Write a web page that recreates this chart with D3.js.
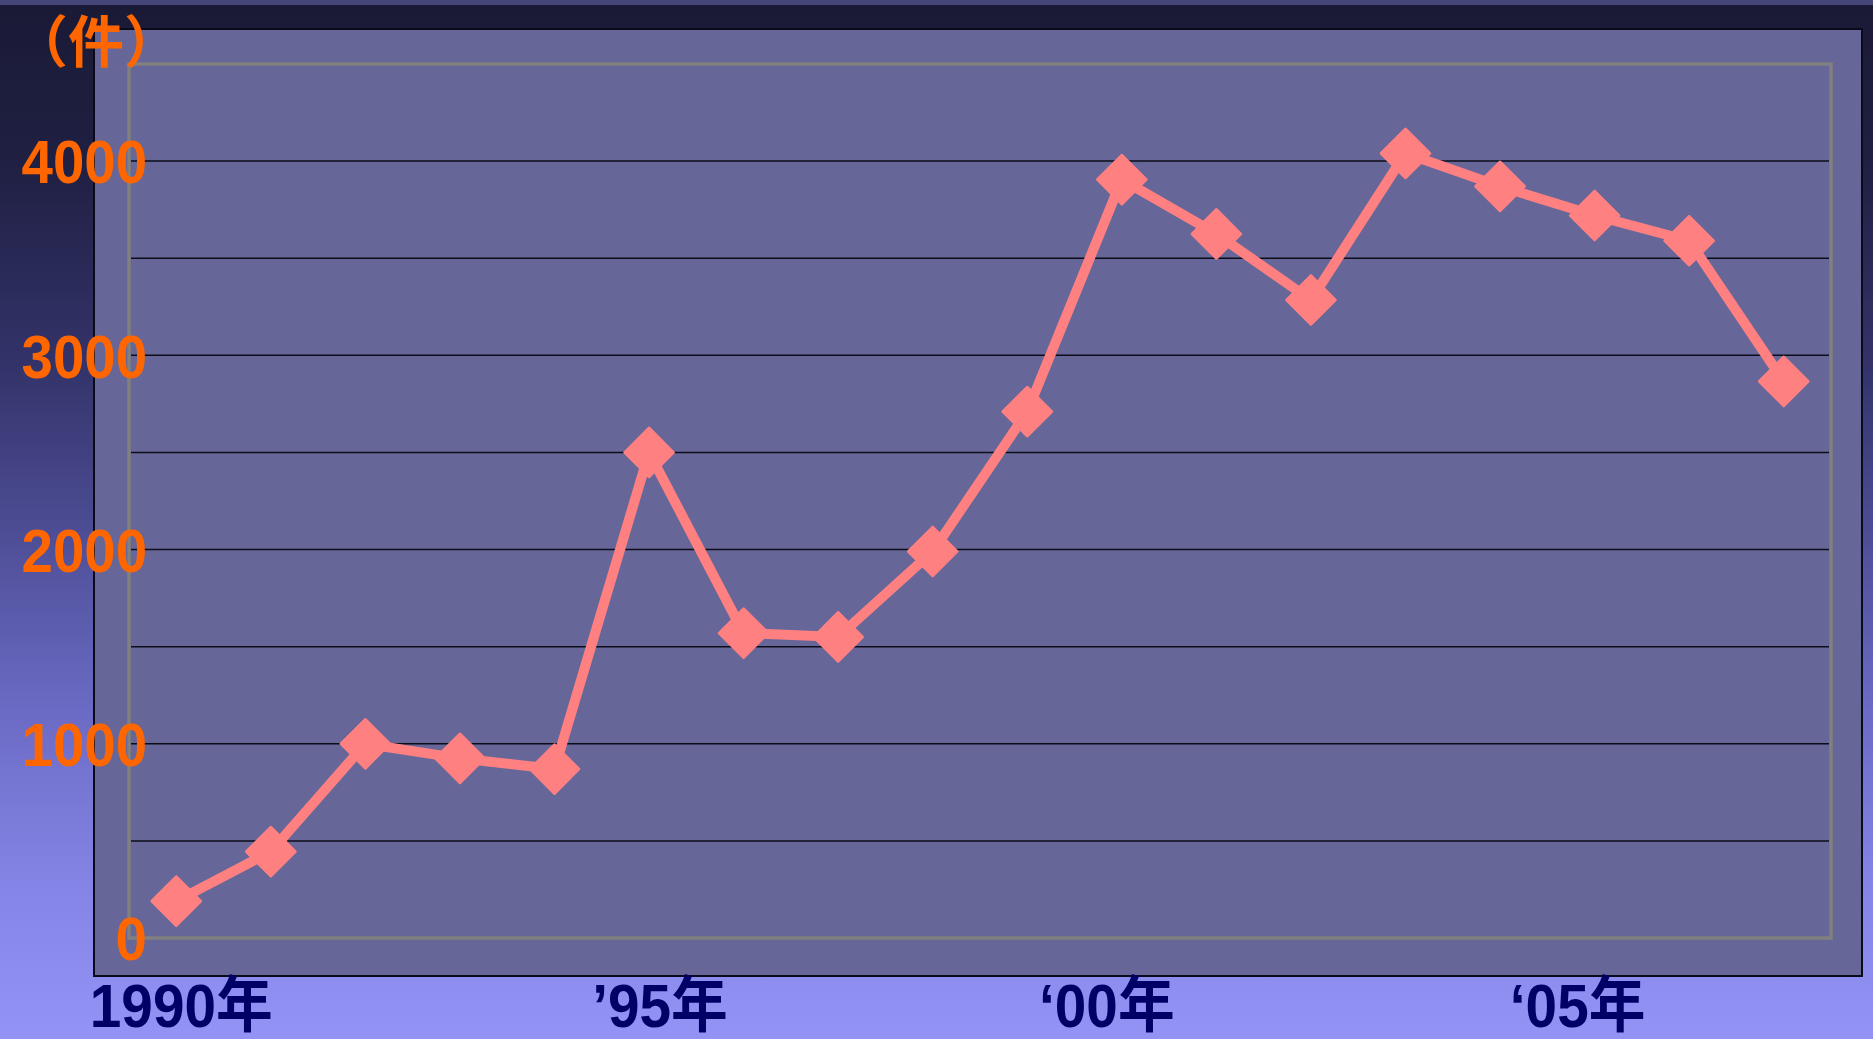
<!DOCTYPE html>
<html>
<head>
<meta charset="utf-8">
<script src="https://cdn.jsdelivr.net/npm/d3@7"></script>
<style>
  html, body { margin: 0; padding: 0; background: #1b1b38; }
  svg { display: block; }
</style>
</head>
<body>
<svg id="chart" width="1873" height="1039"></svg>
<script>
// ---- data ----
const years = [1990, 1991, 1992, 1993, 1994, 1995, 1996, 1997, 1998, 1999,
               2000, 2001, 2002, 2003, 2004, 2005, 2006, 2007];
const counts = [190, 445, 1000, 925, 870, 2500, 1570, 1550, 1990, 2710,
                3905, 3625, 3285, 4040, 3870, 3720, 3590, 2866];
const yTickLabels = [0, 1000, 2000, 3000, 4000];
const gridValues = [500, 1000, 1500, 2000, 2500, 3000, 3500, 4000];
const xLabelYears = [1990, 1995, 2000, 2005];
const xLabelTexts = ["1990年", "’95年", "‘00年", "‘05年"];
const unitLabel = "（件）";

// ---- layout ----
const W = 1873, H = 1039;
const panel = { x0: 94, y0: 29, x1: 1862, y1: 976 };
const plot = { x0: 129, y0: 64, x1: 1831, y1: 938 };

const svg = d3.select("#chart");
const defs = svg.append("defs");
const bg = defs.append("linearGradient").attr("id", "bg")
  .attr("x1", 0).attr("y1", 0).attr("x2", 0).attr("y2", 1);
[["0%", "#1a1a36"], ["15%", "#1f1f42"], ["35%", "#33336a"], ["50%", "#4b4b92"],
 ["68%", "#6a6ac4"], ["85%", "#8484e6"], ["100%", "#9393f6"]]
  .forEach(([o, c]) => bg.append("stop").attr("offset", o).attr("stop-color", c));

svg.append("rect").attr("width", W).attr("height", H).attr("fill", "url(#bg)");
svg.append("rect").attr("width", W).attr("height", 5).attr("fill", "#46467b");

// panel
svg.append("rect")
  .attr("x", panel.x0).attr("y", panel.y0)
  .attr("width", panel.x1 - panel.x0).attr("height", panel.y1 - panel.y0)
  .attr("fill", "#666699").attr("stroke", "#0a0a1a").attr("stroke-width", 2);

// scales
const x = d3.scaleBand().domain(years).range([plot.x0, plot.x1]);
const y = d3.scaleLinear().domain([0, 4500]).range([plot.y1, plot.y0]);
const cx = d => x(d) + x.bandwidth() / 2;

// gridlines
svg.append("g").selectAll("line").data(gridValues).join("line")
  .attr("x1", plot.x0 + 2).attr("x2", plot.x1 - 2)
  .attr("y1", d => y(d)).attr("y2", d => y(d))
  .attr("stroke", "#0d0d1a").attr("stroke-width", 1.5);

// plot area border
svg.append("rect")
  .attr("x", plot.x0).attr("y", plot.y0)
  .attr("width", plot.x1 - plot.x0).attr("height", plot.y1 - plot.y0)
  .attr("fill", "none").attr("stroke", "#808080").attr("stroke-width", 3.5);

// line
const line = d3.line().x((d, i) => cx(years[i])).y(d => y(d));
svg.append("path").datum(counts)
  .attr("d", line).attr("fill", "none")
  .attr("stroke", "#ff8080").attr("stroke-width", 10).attr("stroke-linejoin", "miter");

// markers
const sym = d3.symbol().type(d3.symbolSquare).size(1180);
svg.append("g").selectAll("path").data(counts).join("path")
  .attr("d", sym)
  .attr("transform", (d, i) => `translate(${cx(years[i])},${y(d)}) rotate(45)`)
  .attr("fill", "#ff8080").attr("stroke", "#ff8080").attr("stroke-width", 3)
  .attr("stroke-linejoin", "round");

// y tick labels
svg.append("g").selectAll("text").data(yTickLabels).join("text")
  .attr("transform", d => `translate(147,${y(d)}) scale(0.91,1)`)
  .attr("text-anchor", "end").attr("dy", "0.36em")
  .attr("font-family", "'Liberation Sans', Arial, sans-serif")
  .attr("font-weight", "bold").attr("font-size", 62)
  .attr("fill", "#ff6600")
  .text(d => d);

// unit label
svg.append("text")
  .attr("x", 96).attr("y", 62).attr("text-anchor", "middle")
  .attr("font-family", "'Noto Sans CJK JP', sans-serif")
  .attr("font-weight", "bold").attr("font-size", 56)
  .attr("fill", "#ff6600")
  .text(unitLabel);

// x labels
const xLabelShift = [5, 11, -15, -17];
svg.append("g").selectAll("text").data(xLabelYears).join("text")
  .attr("transform", (d, i) => `translate(${cx(d) + xLabelShift[i]},1027) scale(0.93,1)`)
  .attr("text-anchor", "middle")
  .attr("font-family", "'Liberation Sans', 'Noto Sans CJK JP', Arial, sans-serif")
  .attr("font-weight", "bold").attr("font-size", 61)
  .attr("fill", "#000066")
  .text((d, i) => xLabelTexts[i]);
</script>
</body>
</html>
